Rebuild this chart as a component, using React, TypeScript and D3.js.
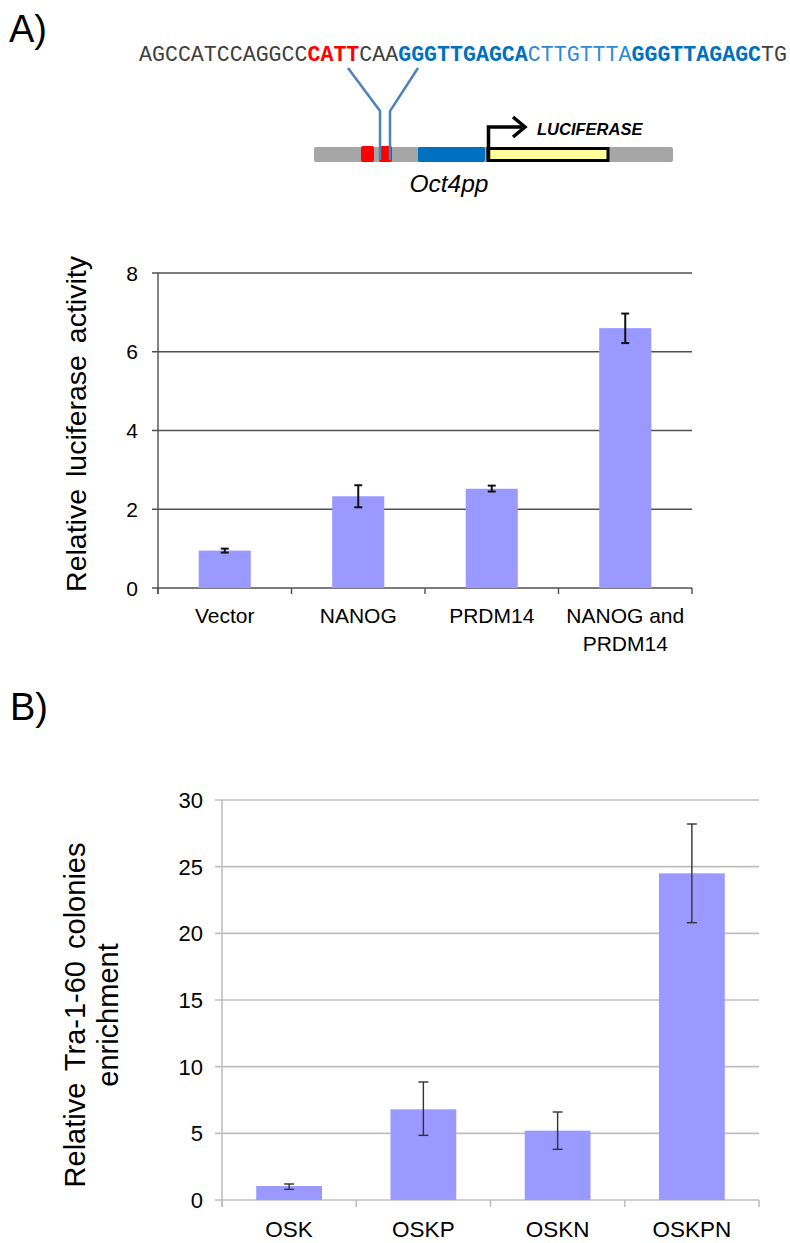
import React from "react";
import * as d3 from "d3";

// ---- Data ----
const catsA = ["Vector", "NANOG", "PRDM14", "NANOG and PRDM14"];
const valsA = [0.95, 2.33, 2.52, 6.6];
const errLoA = [0.9, 2.05, 2.45, 6.22];
const errHiA = [1.0, 2.61, 2.6, 6.97];
const ticksA = [0, 2, 4, 6, 8];

const catsB = ["OSK", "OSKP", "OSKN", "OSKPN"];
const valsB = [1.05, 6.8, 5.2, 24.5];
const errLoB = [0.8, 4.85, 3.8, 20.8];
const errHiB = [1.2, 8.85, 6.6, 28.2];
const ticksB = [0, 5, 10, 15, 20, 25, 30];

const seqParts = [
  { t: "AGCCATCCAGGCC", c: "#404040", w: 400 },
  { t: "CATT", c: "#ff0000", w: 700 },
  { t: "CAA", c: "#404040", w: 400 },
  { t: "GGGTTGAGCA", c: "#0070c0", w: 700 },
  { t: "CTTGTTTA", c: "#2e8ad8", w: 400 },
  { t: "GGGTTAGAGC", c: "#0070c0", w: 700 },
  { t: "TG", c: "#404040", w: 400 },
];

const FONT = "Liberation Sans, Arial, sans-serif";
const BAR = "#9999ff";

export default function App() {
  // Chart A scales
  const xA = d3.scaleBand<string>().domain(catsA).range([158, 692]).paddingInner(0.61).paddingOuter(0.305);
  const yA = d3.scaleLinear().domain([0, 8]).range([588, 273]);
  const stepA = xA.step();
  // Chart B scales
  const xB = d3.scaleBand<string>().domain(catsB).range([222, 759]).paddingInner(0.51).paddingOuter(0.255);
  const yB = d3.scaleLinear().domain([0, 30]).range([1200, 800]);
  const stepB = xB.step();

  const boundsA = d3.range(catsA.length + 1).map((i) => 158 + i * stepA);
  const boundsB = d3.range(catsB.length + 1).map((i) => 222 + i * stepB);

  return (
    <svg width={790} height={1243} style={{ display: "block", position: "absolute", left: 0, top: 0 }} fontFamily={FONT}>
      <rect width={790} height={1243} fill="#fff" />
      {/* Panel labels */}
      <text x={9} y={42} fontSize={38} fill="#000">A)</text>
      <text x={10} y={720} fontSize={38} fill="#000">B)</text>

      {/* Sequence */}
      <text x={139} y={61} fontFamily="Liberation Mono, monospace" fontSize={21.6}>
        {seqParts.map((p, i) => (
          <tspan key={i} fill={p.c} fontWeight={p.w}>{p.t}</tspan>
        ))}
      </text>

      {/* Construct diagram */}
      <g>
        <rect x={314} y={147} width={359} height={15} rx={2} fill="#a6a6a6" />
        <rect x={361} y={146} width={13} height={16} rx={2} fill="#ff0000" />
        <rect x={379} y={146} width={13} height={16} rx={2} fill="#ff0000" />
        <rect x={418} y={147} width={67} height={15} rx={2} fill="#0070c0" />
        <rect x={488} y={148.5} width={120} height={12} fill="#ffff99" stroke="#000" strokeWidth={3} />
        {/* antibody */}
        <path d="M348,68 L380,111 L380,160" fill="none" stroke="#4f81bd" strokeWidth={2.5} />
        <path d="M418,68 L390,111 L390,160" fill="none" stroke="#4f81bd" strokeWidth={2.5} />
        {/* arrow */}
        <path d="M488.5,160 L488.5,127 L522,127" fill="none" stroke="#000" strokeWidth={3.5} />
        <path d="M513,117 L525,127 L513,137" fill="none" stroke="#000" strokeWidth={3.5} />
        <text x={537} y={135} fontSize={16.5} fontWeight={700} fontStyle="italic" fill="#000">LUCIFERASE</text>
        <text x={449} y={192} fontSize={24.5} fontStyle="italic" textAnchor="middle" fill="#000">Oct4pp</text>
      </g>

      {/* Chart A */}
      <g>
        {ticksA.map((t) => (
          <g key={t}>
            <line x1={152} x2={692} y1={yA(t)} y2={yA(t)} stroke="#505050" strokeWidth={1.4} />
            <text x={138} y={yA(t)} dy="0.36em" fontSize={21} textAnchor="end" fill="#000">{t}</text>
          </g>
        ))}
        <line x1={158} x2={158} y1={yA(8)} y2={yA(0) + 6} stroke="#505050" strokeWidth={1.4} />
        {boundsA.map((b, i) => (
          <line key={i} x1={b} x2={b} y1={yA(0)} y2={yA(0) + 6} stroke="#505050" strokeWidth={1.4} />
        ))}
        {catsA.map((c, i) => (
          <rect key={c} x={xA(c)} y={yA(valsA[i])} width={xA.bandwidth()} height={yA(0) - yA(valsA[i])} fill={BAR} />
        ))}
        {catsA.map((c, i) => {
          const cx = (xA(c) as number) + xA.bandwidth() / 2;
          return (
            <g key={c} stroke="#111" strokeWidth={2}>
              <line x1={cx} x2={cx} y1={yA(errLoA[i])} y2={yA(errHiA[i])} />
              <line x1={cx - 4} x2={cx + 4} y1={yA(errLoA[i])} y2={yA(errLoA[i])} />
              <line x1={cx - 4} x2={cx + 4} y1={yA(errHiA[i])} y2={yA(errHiA[i])} />
            </g>
          );
        })}
        {catsA.map((c, i) => {
          const cx = (xA(c) as number) + xA.bandwidth() / 2;
          const lines = c === "NANOG and PRDM14" ? ["NANOG and", "PRDM14"] : [c];
          return (
            <text key={c} x={cx} y={623} fontSize={21} textAnchor="middle" fill="#000">
              {lines.map((l, j) => (
                <tspan key={j} x={cx} dy={j === 0 ? 0 : 28}>{l}</tspan>
              ))}
            </text>
          );
        })}
        <text transform="translate(86,424) rotate(-90)" fontSize={28.5} textAnchor="middle" fill="#000" wordSpacing={4}>
          Relative luciferase activity
        </text>
      </g>

      {/* Chart B */}
      <g>
        {ticksB.map((t) => (
          <g key={t}>
            <line x1={215} x2={759} y1={yB(t)} y2={yB(t)} stroke="#bfbfbf" strokeWidth={1.6} />
            <text x={203} y={yB(t)} dy="0.36em" fontSize={22} textAnchor="end" fill="#000">{t}</text>
          </g>
        ))}
        <line x1={222} x2={222} y1={yB(30)} y2={yB(0) + 7} stroke="#bfbfbf" strokeWidth={1.6} />
        {boundsB.map((b, i) => (
          <line key={i} x1={b} x2={b} y1={yB(0)} y2={yB(0) + 7} stroke="#bfbfbf" strokeWidth={1.6} />
        ))}
        {catsB.map((c, i) => (
          <rect key={c} x={xB(c)} y={yB(valsB[i])} width={xB.bandwidth()} height={yB(0) - yB(valsB[i])} fill={BAR} />
        ))}
        {catsB.map((c, i) => {
          const cx = (xB(c) as number) + xB.bandwidth() / 2;
          return (
            <g key={c} stroke="#333" strokeWidth={1.4}>
              <line x1={cx} x2={cx} y1={yB(errLoB[i])} y2={yB(errHiB[i])} />
              <line x1={cx - 5} x2={cx + 5} y1={yB(errLoB[i])} y2={yB(errLoB[i])} />
              <line x1={cx - 5} x2={cx + 5} y1={yB(errHiB[i])} y2={yB(errHiB[i])} />
            </g>
          );
        })}
        {catsB.map((c) => {
          const cx = (xB(c) as number) + xB.bandwidth() / 2;
          return (
            <text key={c} x={cx} y={1237} fontSize={22.5} textAnchor="middle" fill="#000">{c}</text>
          );
        })}
        <text transform="translate(85,1015) rotate(-90)" fontSize={29} textAnchor="middle" fill="#000" wordSpacing={4}>
          Relative Tra-1-60 colonies
        </text>
        <text transform="translate(118,1015) rotate(-90)" fontSize={29} textAnchor="middle" fill="#000">
          enrichment
        </text>
      </g>
    </svg>
  );
}
